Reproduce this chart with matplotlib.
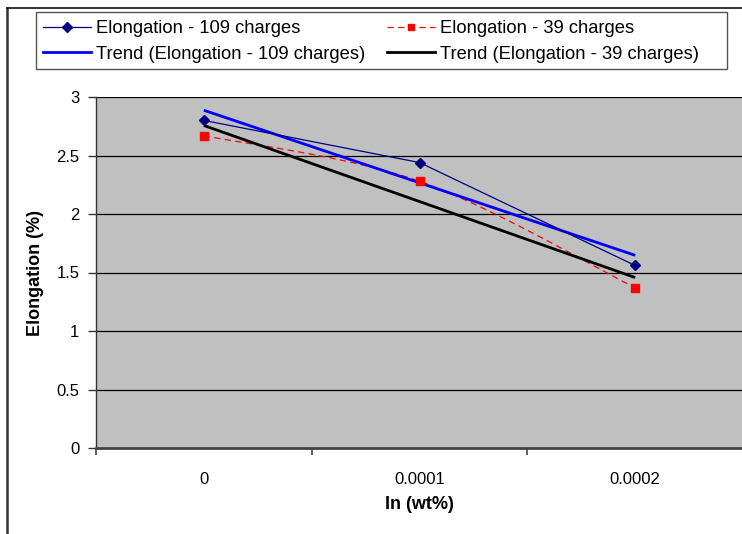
import numpy as np
import matplotlib
matplotlib.use("Agg")
import matplotlib.pyplot as plt
from matplotlib.lines import Line2D
from matplotlib.patches import Rectangle

plt.rcParams['font.family'] = ['Liberation Sans', 'DejaVu Sans']

# Data
categories = ["0", "0.0001", "0.0002"]
elong_109 = [2.80, 2.44, 1.56]
elong_39 = [2.67, 2.28, 1.37]
y_ticks = [0, 0.5, 1, 1.5, 2, 2.5, 3]
y_tick_labels = ["0", "0.5", "1", "1.5", "2", "2.5", "3"]

W, H = 742, 534
fig = plt.figure(figsize=(W / 100, H / 100), dpi=100)

# Chart-area border (only top and left edges fall inside the canvas)
fig.add_artist(Line2D([7 / W, 7 / W], [0, 1 - 8 / H], transform=fig.transFigure,
                      color="#333333", lw=1.8))
fig.add_artist(Line2D([7 / W, 1], [1 - 8 / H, 1 - 8 / H], transform=fig.transFigure,
                      color="#111111", lw=1.2))

left, right, top, bottom = 96, 743, 97, 448
ax = fig.add_axes([left / W, 1 - bottom / H, (right - left) / W, (bottom - top) / H])
ax.set_facecolor("#C0C0C0")

x = np.arange(len(categories))


def linear_trend(vals):
    coef = np.polyfit(x, vals, 1)
    return np.polyval(coef, x)


def smooth_curve(px, py, n=60):
    """Bezier smoothing through the points (spreadsheet-style smoothed line)."""
    pts = np.column_stack([px, py]).astype(float)
    m = len(pts)
    out = []
    for i in range(m - 1):
        p0 = pts[max(i - 1, 0)]
        p1 = pts[i]
        p2 = pts[i + 1]
        p3 = pts[min(i + 2, m - 1)]
        c1 = p1 + (p2 - p0) / 6.0
        c2 = p2 - (p3 - p1) / 6.0
        t = np.linspace(0, 1, n)[:, None]
        seg = ((1 - t) ** 3) * p1 + 3 * ((1 - t) ** 2) * t * c1 + 3 * (1 - t) * t ** 2 * c2 + t ** 3 * p2
        out.append(seg if i == 0 else seg[1:])
    out = np.vstack(out)
    return out[:, 0], out[:, 1]


# Grid
for yv in y_ticks[1:]:
    ax.axhline(yv, color="black", lw=0.9, zorder=1)

# Series
ax.plot(x, elong_109, color="#000080", lw=0.9, marker="D", markersize=5.5,
        zorder=4)
sx, sy = smooth_curve(x, elong_39)
ax.plot(sx, sy, color="#FF0000", lw=0.9, linestyle=(0, (5, 3.5)), zorder=3)
ax.plot(x, elong_39, linestyle="none", marker="s", markersize=5.5,
        color="#FF0000", zorder=4)
ax.plot(x, linear_trend(elong_109), color="#0000FF", lw=2.0, zorder=3,
        solid_capstyle="butt")
ax.plot(x, linear_trend(elong_39), color="black", lw=2.0, zorder=3,
        solid_capstyle="butt")

ax.set_xlim(-0.5, 2.5)
ax.set_ylim(0, 3)
ax.set_yticks(y_ticks)
ax.set_yticklabels(y_tick_labels)
ax.set_xticks(x)
ax.set_xticklabels(categories)
ax.set_xticks([-0.5, 0.5, 1.5, 2.5], minor=True)
ax.tick_params(axis="x", which="major", length=0, pad=17, labelsize=12)
ax.tick_params(axis="x", which="minor", length=5, width=1.2, color="#444444", direction="out")
ax.tick_params(axis="y", length=6, width=1, color="#333333", direction="out",
               pad=6, labelsize=12)

for s in ["top", "right"]:
    ax.spines[s].set_visible(False)
ax.spines["left"].set_color("#333333")
ax.spines["left"].set_linewidth(1.0)
ax.spines["bottom"].set_color("#444444")
ax.spines["bottom"].set_linewidth(2.0)
ax.spines["bottom"].set_zorder(5)

ax.set_ylabel("Elongation (%)", fontsize=13, fontweight="bold", labelpad=9)
ax.set_xlabel("In (wt%)", fontsize=13, fontweight="bold", labelpad=7)

# Legend frame
fig.add_artist(Rectangle((36 / W, 1 - 69 / H), (727 - 36) / W, (69 - 12) / H,
                         transform=fig.transFigure, fill=False,
                         edgecolor="#555555", lw=1.0))

handles = [
    Line2D([], [], color="#000080", lw=0.9, marker="D", markersize=5),
    Line2D([], [], color="#0000FF", lw=2.0),
    Line2D([], [], color="#FF0000", lw=0.9, linestyle=(0, (5, 3.5)), marker="s", markersize=5),
    Line2D([], [], color="black", lw=2.0),
]
labels = [
    "Elongation - 109 charges",
    "Trend (Elongation - 109 charges)",
    "Elongation - 39 charges",
    "Trend (Elongation - 39 charges)",
]
leg = fig.legend(handles, labels, ncol=2, loc="center left",
                 bbox_to_anchor=(36 / W, 1 - 41.5 / H),
                 fontsize=13.2, frameon=False,
                 numpoints=1, handlelength=2.6, handletextpad=0.3,
                 columnspacing=1.15, labelspacing=0.45, borderpad=0.0,
                 borderaxespad=0.4)

fig.savefig("out.png", dpi=100)
